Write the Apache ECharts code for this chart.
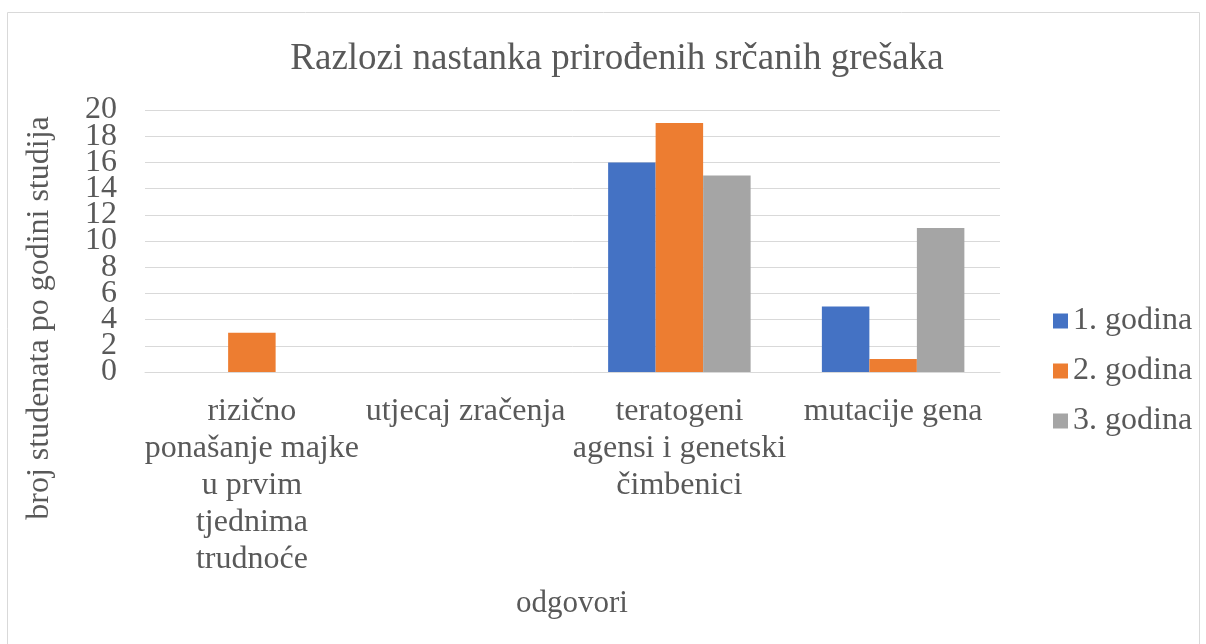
<!DOCTYPE html>
<html>
<head>
<meta charset="utf-8">
<script src="https://cdn.jsdelivr.net/npm/echarts@6/dist/echarts.min.js"></script>
<style>
  html, body { margin: 0; padding: 0; background: #fff; }
  #chart { width: 1206px; height: 644px; }
</style>
</head>
<body>
<div id="chart"></div>
<script>
const categories = [
  "rizično\nponašanje majke\nu prvim\ntjednima\ntrudnoće",
  "utjecaj zračenja",
  "teratogeni\nagensi i genetski\nčimbenici",
  "mutacije gena"
];
const seriesNames = ["1. godina", "2. godina", "3. godina"];
const godina1 = [0, 0, 16, 5];
const godina2 = [3, 0, 19, 1];
const godina3 = [0, 0, 15, 11];
const colors = ["#4472C4", "#ED7D31", "#A5A5A5"];

const font = "Liberation Serif";
const textColor = "#595959";
const gridColor = "#D9D9D9";

const chart = echarts.init(document.getElementById("chart"));

const seriesData = [godina1, godina2, godina3].map((values, i) => ({
  name: seriesNames[i],
  type: "bar",
  yAxisIndex: 1,
  data: values,
  barWidth: 47.5,
  barGap: "0%",
  itemStyle: { color: colors[i] },
  emphasis: { disabled: true },
}));

// label style shared by both y axes (the outer one only carries 0 and 20,
// so ECharts doesn't drop 2 and 18 for overlapping the min/max labels)
const yLabel = {
  margin: 28,
  fontFamily: font,
  fontSize: 32,
  color: textColor,
};

const option = {
  animation: false,
  title: {
    text: "Razlozi nastanka prirođenih srčanih grešaka",
    left: 612,
    textAlign: "center",
    top: 36,
    textStyle: {
      fontFamily: font,
      fontSize: 37,
      fontWeight: "normal",
      color: textColor,
    },
  },
  legend: {
    orient: "vertical",
    left: 1048,
    top: 300,
    itemWidth: 15,
    itemHeight: 15,
    itemGap: 18,
    itemTextGap: 9,
    icon: "rect",
    textStyle: {
      fontFamily: font,
      fontSize: 32,
      color: textColor,
    },
  },
  grid: {
    left: 145,
    right: 206,
    top: 110,
    bottom: 272,
    containLabel: false,
  },
  xAxis: {
    type: "category",
    data: categories,
    axisTick: { show: false },
    axisLine: { lineStyle: { color: gridColor, width: 1 } },
    axisLabel: {
      interval: 0,
      margin: 21,
      fontFamily: font,
      fontSize: 32,
      lineHeight: 37,
      color: textColor,
    },
  },
  yAxis: [
    {
      type: "value",
      position: "left",
      min: 0,
      max: 20,
      interval: 20,
      axisLine: { show: false },
      axisTick: { show: false },
      splitLine: { show: false },
      axisLabel: { ...yLabel, showMinLabel: true, showMaxLabel: true },
    },
    {
      type: "value",
      position: "left",
      min: 0,
      max: 20,
      interval: 2,
      axisLine: { show: false },
      axisTick: { show: false },
      axisLabel: { ...yLabel, showMinLabel: false, showMaxLabel: false },
      splitLine: { lineStyle: { color: gridColor, width: 1 } },
    },
  ],
  graphic: [
    {
      type: "rect",
      shape: { x: 7.5, y: 12.5, width: 1192, height: 700 },
      style: { fill: null, stroke: gridColor, lineWidth: 1 },
      silent: true,
    },
    {
      type: "text",
      x: 40,
      y: 318,
      rotation: Math.PI / 2,
      style: {
        text: "broj studenata po godini studija",
        font: "32px 'Liberation Serif'",
        fill: textColor,
        textAlign: "center",
        textVerticalAlign: "middle",
      },
    },
    {
      type: "text",
      x: 572,
      y: 604,
      style: {
        text: "odgovori",
        font: "31px 'Liberation Serif'",
        fill: textColor,
        textAlign: "center",
        textVerticalAlign: "middle",
      },
    },
  ],
  series: seriesData,
};

chart.setOption(option);
</script>
</body>
</html>
